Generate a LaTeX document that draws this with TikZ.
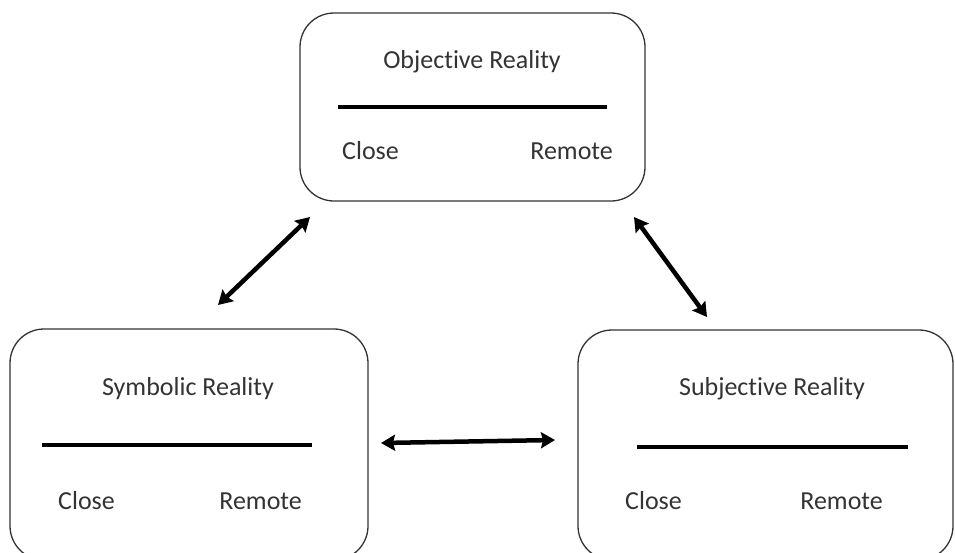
\documentclass[tikz,border=0pt]{standalone}
\usepackage{fontspec}
\setmainfont{Carlito}[Ligatures={NoCommon}]
\usetikzlibrary{arrows.meta}
\definecolor{ink}{HTML}{333333}
\tikzset{
  realm/.style={draw=ink, line width=1.3pt, rounded corners=34pt, inner sep=0pt},
  heading/.style={anchor=base, text=ink, inner sep=0pt},
  tag/.style={text=ink, inner sep=0pt},
  rangebar/.style={line width=4pt, black},
  link/.style={line width=4.5pt, black, {Stealth[length=14pt,width=16pt,inset=2pt]}-{Stealth[length=14pt,width=16pt,inset=2pt]}}
}
\begin{document}
\begin{tikzpicture}[x=1pt, y=-1pt, font=\fontsize{26}{31}\selectfont]
\useasboundingbox (0,0) rectangle (955,552);

% the three realities
\node[realm, minimum width=345pt, minimum height=188pt] (obj) at (472.5,107) {};
\node[realm, minimum width=358pt, minimum height=231pt] (sym) at (189,444.5) {};
\node[realm, minimum width=375pt, minimum height=230pt] (sub) at (765.5,445) {};

% Objective Reality
\node[heading] (objT) at (472,68) {Objective Reality};
\coordinate (objL) at (338,107);
\coordinate (objR) at (607,107);
\draw[rangebar] (objL) -- (objR);
\node[tag, anchor=base west] (objC) at (342,159) {Close};
\node[tag, anchor=base east] (objF) at (613,159) {Remote};

% Symbolic Reality
\node[heading] (symT) at (188,395) {Symbolic Reality};
\coordinate (symL) at (42,445);
\coordinate (symR) at (312,445);
\draw[rangebar] (symL) -- (symR);
\node[tag, anchor=base west] (symC) at (58,509) {Close};
\node[tag, anchor=base east] (symF) at (302,509) {Remote};

% Subjective Reality
\node[heading] (subT) at (772,395) {Subjective Reality};
\coordinate (subL) at (637,447);
\coordinate (subR) at (908,447);
\draw[rangebar] (subL) -- (subR);
\node[tag, anchor=base west] (subC) at (625,509) {Close};
\node[tag, anchor=base east] (subF) at (883,509) {Remote};

% two-way links between the realities
\coordinate (a1) at (218,305);
\coordinate (a2) at (310,217);
\coordinate (b1) at (634,217);
\coordinate (b2) at (707,317);
\coordinate (c1) at (381,443);
\coordinate (c2) at (555,440);
\draw[link] (a1) -- (a2);
\draw[link] (b1) -- (b2);
\draw[link] (c1) -- (c2);
\end{tikzpicture}
\end{document}
